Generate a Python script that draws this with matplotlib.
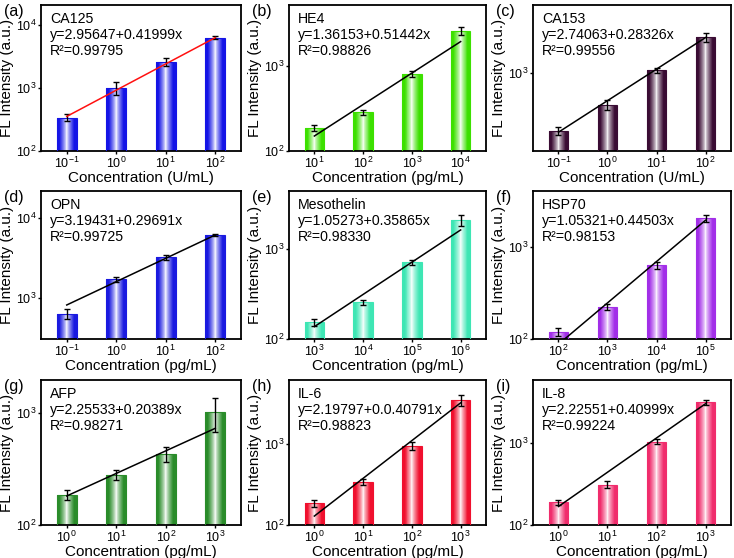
import numpy as np
import matplotlib
matplotlib.use("Agg")
import matplotlib.pyplot as plt
from matplotlib.colors import to_rgb
from matplotlib.ticker import LogLocator, NullLocator, FixedLocator, FixedFormatter

plt.rcParams["font.family"] = ["Liberation Sans", "DejaVu Sans"]
plt.rcParams["mathtext.fontset"] = "custom"
plt.rcParams["mathtext.rm"] = "Liberation Sans"
plt.rcParams["mathtext.it"] = "Liberation Sans"

# ---- data ----
panel_tags = ["(a)", "(b)", "(c)", "(d)", "(e)", "(f)", "(g)", "(h)", "(i)"]
names = ["CA125", "HE4", "CA153", "OPN", "Mesothelin", "HSP70", "AFP", "IL-6", "IL-8"]
equations = [
    "y=2.95647+0.41999x",
    "y=1.36153+0.51442x",
    "y=2.74063+0.28326x",
    "y=3.19431+0.29691x",
    "y=1.05273+0.35865x",
    "y=1.05321+0.44503x",
    "y=2.25533+0.20389x",
    "y=2.19797+0.0.40791x",
    "y=2.22551+0.40999x",
]
r_squared = ["0.99795", "0.98826", "0.99556", "0.99725", "0.98330",
             "0.98153", "0.98271", "0.98823", "0.99224"]
units = ["U/mL", "pg/mL", "U/mL", "pg/mL", "pg/mL", "pg/mL", "pg/mL", "pg/mL", "pg/mL"]
exponents = [
    [-1, 0, 1, 2],
    [1, 2, 3, 4],
    [-1, 0, 1, 2],
    [-1, 0, 1, 2],
    [3, 4, 5, 6],
    [2, 3, 4, 5],
    [0, 1, 2, 3],
    [0, 1, 2, 3],
    [0, 1, 2, 3],
]
intensity = [
    [340, 1000, 2630, 6320],
    [185, 285, 805, 2605],
    [303, 520, 1064, 2105],
    [625, 1695, 3190, 6070],
    [153, 255, 711, 2100],
    [120, 223, 631, 2037],
    [186, 281, 435, 1035],
    [186, 341, 944, 3443],
    [190, 312, 1038, 3150],
]
errors = [
    [45, 230, 400, 350],
    [15, 20, 65, 300],
    [23, 55, 60, 180],
    [90, 110, 250, 170],
    [12, 14, 45, 300],
    [11, 14, 55, 170],
    [20, 30, 65, 350],
    [18, 32, 110, 500],
    [13, 30, 75, 220],
]
# fitted line, log10(intensity) at first and last concentration
fit_start = [2.55, 2.176, 2.47, 2.908, 2.137, 1.943, 2.26, 2.11, 2.226]
fit_end = [3.803, 3.286, 3.32, 3.783, 3.211, 3.29, 2.866, 3.504, 3.481]
y_limits = [
    (100, 21000), (100, 5200), (200, 4100),
    (304, 21500), (100, 4400), (100, 4050),
    (100, 1990), (100, 6100), (100, 5900),
]
bar_colors = ["#1414e6", "#3ce000", "#3a0c34",
              "#1a1ae0", "#3ee6b4", "#a22ee8",
              "#2a8c2a", "#f0102e", "#f02c6c"]
line_colors = ["#ff1010"] + ["black"] * 8

W, H = 734, 558
col_lr = [(41, 241), (289, 486), (533, 731)]
row_tb = [(5, 151), (191, 339), (380, 525)]


def gradient_bar(ax, x, height, width, color, n=40):
    base = np.array(to_rgb(color))
    edges = np.linspace(-1, 1, n + 1)
    mids = (edges[:-1] + edges[1:]) / 2
    mix = np.clip(np.abs(mids) * 1.35, 0, 1) ** 0.75
    cols = [tuple(1 - (1 - base) * m) for m in mix]
    xs = x + mids * width / 2
    ax.bar(xs, height, width=width / n * 1.02, color=cols, linewidth=0, zorder=2)
    ax.bar(x, height, width=width, facecolor="none", edgecolor=base, linewidth=0.8, zorder=3)


fig = plt.figure(figsize=(W / 100, H / 100), dpi=100)

for k in range(9):
    r, c = divmod(k, 3)
    l, rr = col_lr[c]
    t, b = row_tb[r]
    ax = fig.add_axes([l / W, 1 - b / H, (rr - l) / W, (b - t) / H])
    ax.set_yscale("log")
    xs = np.array(exponents[k], dtype=float)
    for xi, yi in zip(xs, intensity[k]):
        gradient_bar(ax, xi, yi, 0.4, bar_colors[k])
    ax.errorbar(xs, intensity[k], yerr=errors[k], fmt="none", ecolor="black",
                elinewidth=1, capsize=2, capthick=1, zorder=4)
    ax.plot([xs[0], xs[-1]], [10 ** fit_start[k], 10 ** fit_end[k]],
            color=line_colors[k], lw=1.1, zorder=5)
    ax.set_xlim(xs[0] - 0.52, xs[-1] + 0.52)
    ax.set_ylim(*y_limits[k])
    ax.xaxis.set_major_locator(FixedLocator(xs))
    ax.xaxis.set_major_formatter(FixedFormatter([f"$10^{{{int(e)}}}$" for e in xs]))
    ax.yaxis.set_major_locator(LogLocator(base=10))
    ax.yaxis.set_minor_locator(NullLocator())
    ax.tick_params(direction="out", length=2.5, width=1, labelsize=9, pad=1)
    for s in ax.spines.values():
        s.set_linewidth(1.3)
    ax.set_xlabel(f"Concentration ({units[k]})", fontsize=11, labelpad=0)
    ax.set_ylabel("FL Intensity (a.u.)", fontsize=11, labelpad=1)
    ax.text(0.045, 0.955, f"{names[k]}\n{equations[k]}\nR\u00b2={r_squared[k]}",
            transform=ax.transAxes, ha="left", va="top", fontsize=10.2,
            linespacing=1.2, zorder=6)
    fig.text((l - 37) / W, 1 - (t - 1) / H, panel_tags[k], ha="left", va="top",
             fontsize=11.5)

fig.savefig("out.png", dpi=100)
